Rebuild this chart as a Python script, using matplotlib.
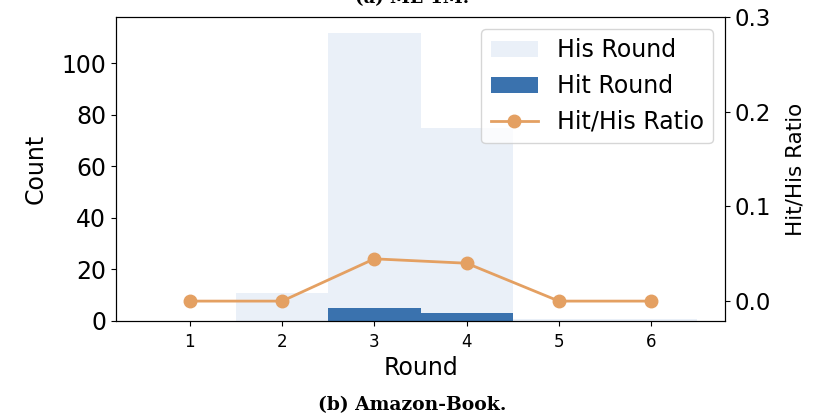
import matplotlib.pyplot as plt
import numpy as np

rounds = [1, 2, 3, 4, 5, 6]
his_round = [0, 11, 112, 75, 0.6, 0.6]
hit_round = [0, 0, 5, 3, 0, 0]
ratio = [h / s if s >= 1 else 0.0 for h, s in zip(hit_round, his_round)]

fig = plt.figure(figsize=(8.25, 4.16), dpi=100)
ax = fig.add_axes([0.1406, 0.2284, 0.7382, 0.7306])

b1 = ax.bar(rounds, his_round, width=1.0, color="#eaf0f8", label="His Round")
b2 = ax.bar(rounds, hit_round, width=1.0, color="#3a72ae", label="Hit Round")
ax.set_ylim(0, 118)
ax.set_yticks([0, 20, 40, 60, 80, 100])
ax.set_xticks(rounds)
ax.tick_params(axis="x", labelsize=12, pad=5)
ax.tick_params(axis="y", labelsize=17)
ax.set_xlabel("Round", fontsize=17, labelpad=4)
ax.set_ylabel("Count", fontsize=17, labelpad=10)

ax2 = ax.twinx()
l1, = ax2.plot(rounds, ratio, color="#e4a062", marker="o", markersize=9,
               linewidth=2, label="Hit/His Ratio")
ax2.set_ylim(-0.021, 0.3)
ax2.set_yticks([0.0, 0.1, 0.2, 0.3])
ax2.tick_params(axis="y", labelsize=16.5)
ax2.set_ylabel("Hit/His Ratio", fontsize=15.5, labelpad=10)

ax2.legend([b1, b2, l1], ["His Round", "Hit Round", "Hit/His Ratio"],
           loc="upper right", fontsize=17)

fig.text(0.5, 1.005, "(a) ML-1M.", ha="center", va="center",
         family="serif", fontweight="bold", fontsize=13)
fig.text(0.5, 0.027, "(b) Amazon-Book.", ha="center", va="center",
         family="serif", fontweight="bold", fontsize=13.5)

fig.savefig("out.png", dpi=100)
